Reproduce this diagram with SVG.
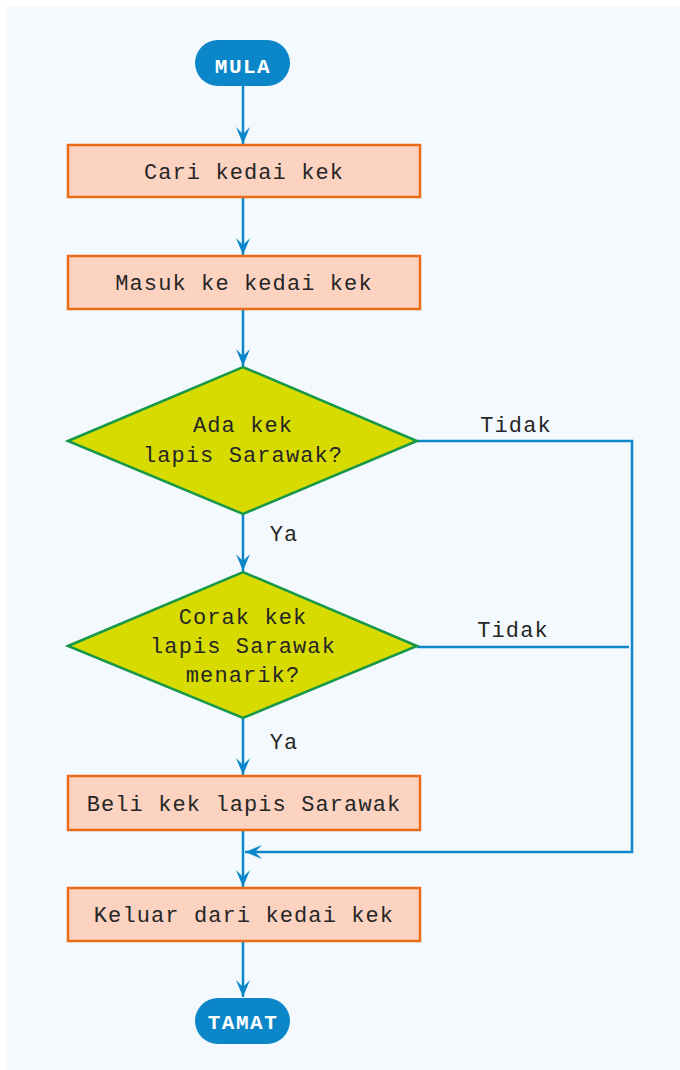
<svg xmlns="http://www.w3.org/2000/svg" width="680" height="1070" viewBox="0 0 680 1070">
  <defs>
    <style>
      .bg { fill: #f4f9fe; }
      .term rect { fill: #0a86c9; }
      .term text { font-family: "Liberation Mono", "DejaVu Sans Mono", monospace; font-weight: bold; font-size: 21px; fill: #ffffff; text-anchor: middle; letter-spacing: 1.5px; }
      .proc rect { fill: #fcd3c0; stroke: #ec6b16; stroke-width: 2.5; }
      .dec polygon { fill: #d7db00; stroke: #169848; stroke-width: 2.5; stroke-linejoin: miter; }
      .lbl { font-family: "Liberation Mono", "DejaVu Sans Mono", monospace; font-size: 22px; fill: #262626; text-anchor: middle; letter-spacing: 1.1px; }
      .flow { fill: none; stroke: #0a86c9; stroke-width: 2.5; }
    </style>
    <marker id="arr" markerUnits="userSpaceOnUse" markerWidth="20" markerHeight="16" refX="17" refY="7" orient="auto">
      <path d="M17,7 L0,0 L7,7 L0,14 Z" fill="#0a86c9"/>
    </marker>
  </defs>

  <rect class="bg" x="6" y="6" width="674" height="1064"/>

  <!-- connectors -->
  <g id="connectors">
    <line class="flow" x1="243" y1="86" x2="243" y2="144" marker-end="url(#arr)"/>
    <line class="flow" x1="243" y1="198" x2="243" y2="255" marker-end="url(#arr)"/>
    <line class="flow" x1="243" y1="310" x2="243" y2="366" marker-end="url(#arr)"/>
    <line class="flow" x1="243" y1="515" x2="243" y2="571" marker-end="url(#arr)"/>
    <line class="flow" x1="243" y1="719" x2="243" y2="775" marker-end="url(#arr)"/>
    <line class="flow" x1="243" y1="831" x2="243" y2="887" marker-end="url(#arr)"/>
    <line class="flow" x1="243" y1="942" x2="243" y2="997" marker-end="url(#arr)"/>
    <polyline class="flow" points="417,441 632,441 632,852 245,852" marker-end="url(#arr)"/>
    <line class="flow" x1="417" y1="647" x2="629" y2="647"/>
    <text class="lbl" x="516" y="432">Tidak</text>
    <text class="lbl" x="513" y="637">Tidak</text>
    <text class="lbl" x="284" y="541">Ya</text>
    <text class="lbl" x="284" y="749">Ya</text>
  </g>

  <g id="start" class="term">
    <rect x="195" y="40" width="95" height="46" rx="23"/>
    <text x="243" y="73">MULA</text>
  </g>

  <g id="find-shop" class="proc">
    <rect x="68" y="145" width="352" height="52"/>
    <text class="lbl" x="244" y="179">Cari kedai kek</text>
  </g>

  <g id="enter-shop" class="proc">
    <rect x="68" y="256" width="352" height="53"/>
    <text class="lbl" x="244" y="290">Masuk ke kedai kek</text>
  </g>

  <g id="has-cake" class="dec">
    <polygon points="68,441 243,367 417,441 243,514"/>
    <text class="lbl" x="243" y="432">Ada kek</text>
    <text class="lbl" x="243" y="462">lapis Sarawak?</text>
  </g>

  <g id="pattern-nice" class="dec">
    <polygon points="68,646 243,572 417,646 243,718"/>
    <text class="lbl" x="243" y="624">Corak kek</text>
    <text class="lbl" x="243" y="653">lapis Sarawak</text>
    <text class="lbl" x="243" y="682">menarik?</text>
  </g>

  <g id="buy-cake" class="proc">
    <rect x="68" y="776" width="352" height="54"/>
    <text class="lbl" x="244" y="811">Beli kek lapis Sarawak</text>
  </g>

  <g id="leave-shop" class="proc">
    <rect x="68" y="888" width="352" height="53"/>
    <text class="lbl" x="244" y="922">Keluar dari kedai kek</text>
  </g>

  <g id="end" class="term">
    <rect x="195" y="998" width="95" height="46" rx="23"/>
    <text x="243" y="1029">TAMAT</text>
  </g>
</svg>
